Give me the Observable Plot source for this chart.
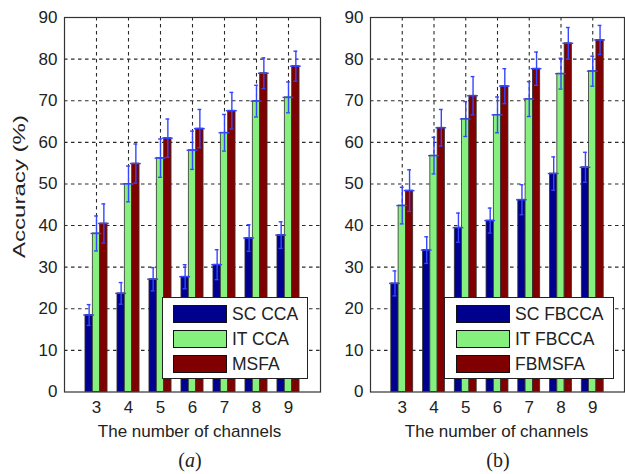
<!DOCTYPE html>
<html><head><meta charset="utf-8">
<script src="https://cdn.jsdelivr.net/npm/d3@7"></script>
<script src="https://cdn.jsdelivr.net/npm/@observablehq/plot@0.6"></script>
<style>
html,body{margin:0;padding:0;background:#fff;}
#fig{position:relative;width:625px;height:474px;overflow:hidden;font-family:"Liberation Sans",Arial,sans-serif;}
#fig svg{position:absolute;top:0;}
.legend{position:absolute;background:#fff;border:1px solid #222;box-sizing:border-box;}
.sw{position:absolute;width:54px;height:18px;border:1px solid #111;box-sizing:border-box;}
.lt{position:absolute;font-size:17.5px;color:#222;line-height:20px;white-space:nowrap;}
</style></head><body><div id="fig"></div>
<script>
// ---- data ----
const channels = [3, 4, 5, 6, 7, 8, 9];
const xTicks = [3, 4, 5, 6, 7, 8, 9];
const yTicks = [0, 10, 20, 30, 40, 50, 60, 70, 80, 90];
const seriesA = ["SC CCA", "IT CCA", "MSFA"];
const seriesB = ["SC FBCCA", "IT FBCCA", "FBMSFA"];
const seriesColors = ["#00008f", "#86f07e", "#800000"];

// panel (a)
const scCCA     = [18.5, 23.7, 27.1, 27.7, 30.6, 37.0, 37.7];
const scCCAErr  = [2.5, 2.6, 2.8, 2.9, 3.6, 3.2, 3.2];
const itCCA     = [38.1, 50.0, 56.2, 58.1, 62.3, 69.9, 70.8];
const itCCAErr  = [4.2, 4.3, 4.6, 4.6, 4.4, 3.8, 3.7];
const msfa      = [40.5, 54.9, 61.0, 63.3, 67.6, 76.6, 78.3];
const msfaErr   = [4.7, 4.7, 4.6, 4.6, 4.4, 3.7, 3.6];

// panel (b)
const scFBCCA    = [26.1, 34.1, 39.5, 41.2, 46.2, 52.5, 54.0];
const scFBCCAErr = [3.0, 3.2, 3.5, 3.0, 3.6, 4.0, 3.6];
const itFBCCA    = [44.8, 56.8, 65.6, 66.6, 70.4, 76.5, 77.1];
const itFBCCAErr = [4.4, 4.4, 4.2, 4.3, 4.2, 3.7, 3.6];
const fbmsfa     = [48.4, 63.5, 71.2, 73.5, 77.7, 83.8, 84.6];
const fbmsfaErr  = [5.0, 4.4, 4.6, 4.2, 4.0, 3.8, 3.5];

const xTitle = "The number of channels";
const yTitle = "Accuracy (%)";

function rowsOf(names, vals, errs) {
  const rows = [];
  names.forEach((n, si) => channels.forEach((c, i) =>
    rows.push({cat: c, si, name: n, v: vals[si][i], e: errs[si][i]})));
  return rows;
}

const BW = 0.23; // bar width in channel units
const cx = d => d.cat + (d.si - 1) * BW;
const EB = "#3546ff";
const GRID = {stroke: "#2a2a2a", strokeWidth: 1.1, strokeDasharray: "3.5,3.5"};

function panel(rows, names, o) {
  return Plot.plot({
    width: o.width, height: 474,
    marginLeft: o.ml, marginRight: o.mr, marginTop: 17, marginBottom: 474 - 391.5,
    style: {fontFamily: "Liberation Sans, Arial, sans-serif", fontSize: "17px", color: "#222", background: "transparent", overflow: "visible"},
    x: {domain: [2, 10], ticks: xTicks, tickSize: 0, tickPadding: 9, label: null, tickFormat: d => String(d)},
    y: {domain: [0, 90], ticks: yTicks, tickSize: 0, tickPadding: 7, label: null},
    color: {domain: names, range: seriesColors},
    marks: [
      Plot.ruleY(yTicks.filter(t => t > 0 && t < 90), GRID),
      Plot.ruleX(xTicks, GRID),
      Plot.rectY(rows, {x1: d => cx(d) - BW / 2, x2: d => cx(d) + BW / 2, y1: 0, y2: "v", fill: "name", stroke: "#333", strokeWidth: 0.8}),
      Plot.ruleX(rows, {x: cx, y1: d => d.v - d.e, y2: d => d.v + d.e, stroke: EB, strokeWidth: 1.4}),
      Plot.ruleY(rows, {y: "v", x1: d => cx(d) - 0.17, x2: d => cx(d) + 0.17, stroke: EB, strokeWidth: 1.4}),
      Plot.ruleY(rows, {y: d => d.v + d.e, x1: d => cx(d) - 0.06, x2: d => cx(d) + 0.06, stroke: EB, strokeWidth: 1.4}),
      Plot.ruleY(rows, {y: d => d.v - d.e, x1: d => cx(d) - 0.06, x2: d => cx(d) + 0.06, stroke: EB, strokeWidth: 1.4}),
      Plot.frame({stroke: "#333", strokeWidth: 1.2})
    ]
  });
}

const fig = document.getElementById("fig");
const svgA = panel(rowsOf(seriesA, [scCCA, itCCA, msfa], [scCCAErr, itCCAErr, msfaErr]), seriesA, {width: 335, ml: 64, mr: 15});
svgA.style.left = "0px";
const svgB = panel(rowsOf(seriesB, [scFBCCA, itFBCCA, fbmsfa], [scFBCCAErr, itFBCCAErr, fbmsfaErr]), seriesB, {width: 315, ml: 60, mr: 1});
svgB.style.left = "310px";
fig.appendChild(svgA);
fig.appendChild(svgB);

// titles and captions
const sa = d3.select(svgA), sb = d3.select(svgB);
sa.append("text").attr("x", 189.5).attr("y", 437).attr("text-anchor", "middle")
  .attr("font-size", 17).attr("fill", "#222").text(xTitle);
sb.append("text").attr("x", 496.5 - 310).attr("y", 437).attr("text-anchor", "middle")
  .attr("font-size", 17).attr("fill", "#222").text(xTitle);
sa.append("text").attr("transform", "translate(25,186.5) rotate(-90)").attr("text-anchor", "middle")
  .attr("font-size", 17).attr("fill", "#222").attr("textLength", 143).attr("lengthAdjust", "spacingAndGlyphs").text(yTitle);
const capA = sa.append("text").attr("x", 190).attr("y", 467).attr("text-anchor", "middle")
  .attr("font-family", "Liberation Serif, Times New Roman, serif").attr("font-size", 20).attr("fill", "#222");
capA.append("tspan").text("(");
capA.append("tspan").attr("font-style", "italic").text("a");
capA.append("tspan").text(")");
sb.append("text").attr("x", 498 - 310).attr("y", 467).attr("text-anchor", "middle")
  .attr("font-family", "Liberation Serif, Times New Roman, serif").attr("font-size", 20).attr("fill", "#222").text("(b)");

// legends
function legend(names, box) {
  const L = document.createElement("div");
  L.className = "legend";
  Object.assign(L.style, {left: box.x + "px", top: box.y + "px", width: box.w + "px", height: box.h + "px"});
  const rowsY = [312.5, 338, 363];
  names.forEach((n, i) => {
    const s = document.createElement("div");
    s.className = "sw";
    Object.assign(s.style, {left: box.sx + "px", top: (rowsY[i] - 9 - box.y) + "px", background: seriesColors[i]});
    L.appendChild(s);
    const t = document.createElement("div");
    t.className = "lt";
    Object.assign(t.style, {left: box.tx + "px", top: (rowsY[i] - 10 - box.y) + "px"});
    t.textContent = n;
    L.appendChild(t);
  });
  fig.appendChild(L);
}
legend(seriesA, {x: 162, y: 297, w: 146, h: 82, sx: 10, tx: 69});
legend(seriesB, {x: 444, y: 297, w: 170, h: 82, sx: 11, tx: 70});
</script></body></html>
